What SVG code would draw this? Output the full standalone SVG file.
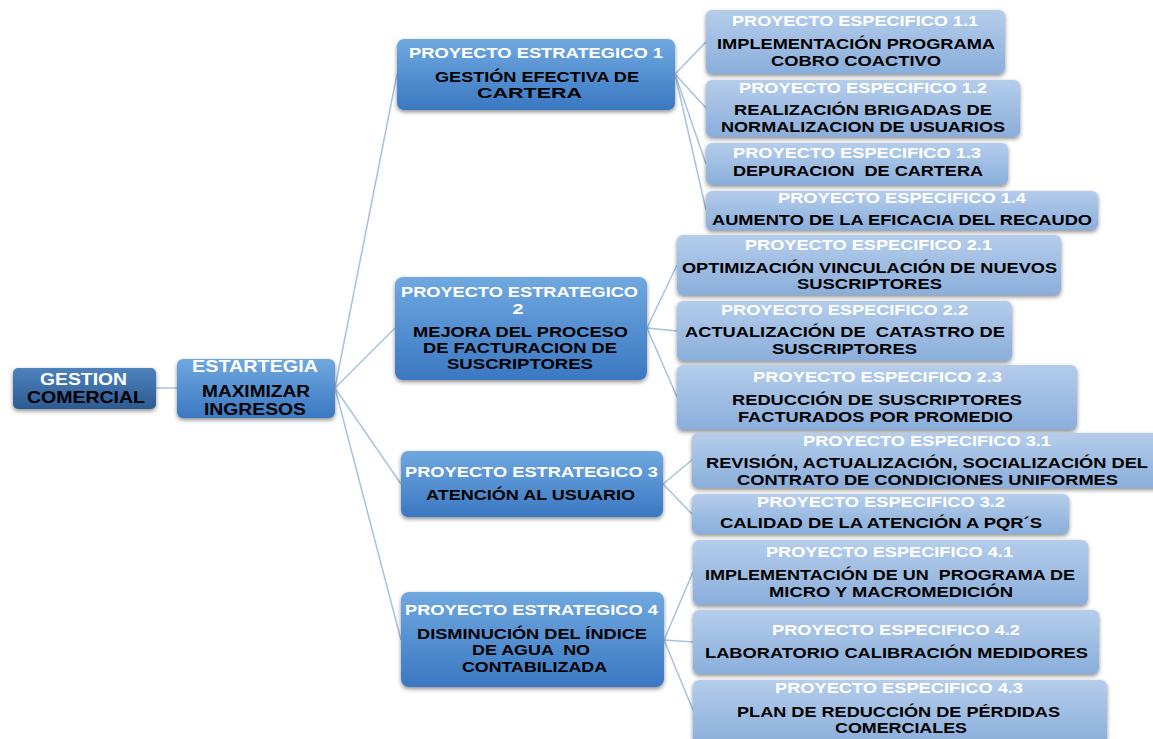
<svg xmlns="http://www.w3.org/2000/svg" width="1153" height="739" viewBox="0 0 1153 739">
<defs>
<linearGradient id="gRoot" x1="0" y1="0" x2="0" y2="1"><stop offset="0" stop-color="#4d82bc"/><stop offset="1" stop-color="#2c5a92"/></linearGradient>
<linearGradient id="gStrat" x1="0" y1="0" x2="0" y2="1"><stop offset="0" stop-color="#70a8e0"/><stop offset="1" stop-color="#3a78c2"/></linearGradient>
<linearGradient id="gSpec" x1="0" y1="0" x2="0" y2="1"><stop offset="0" stop-color="#b5cdeb"/><stop offset="1" stop-color="#8aaedb"/></linearGradient>
<filter id="sh" x="-10%" y="-20%" width="120%" height="150%"><feDropShadow dx="0" dy="2" stdDeviation="2" flood-color="#000" flood-opacity="0.45"/></filter>
</defs>
<style>
.t{font-family:"Liberation Sans",Arial,sans-serif;font-weight:bold}
.w{fill:#ffffff}
.k{fill:#000000}
.r{font-size:17px}
.m{font-size:16px}
.s{font-size:15px}
.p{font-size:15.5px}
.root{fill:url(#gRoot);filter:url(#sh)}
.strat{fill:url(#gStrat);filter:url(#sh)}
.spec{fill:url(#gSpec);filter:url(#sh)}
.c{stroke:#a7c1e2;stroke-width:1.5;fill:none}
</style>
<rect width="1153" height="739" fill="#ffffff"/>
<g id="connectors">
<line class="c" x1="156" y1="388" x2="177" y2="388"/>
<line class="c" x1="335" y1="388" x2="397" y2="74"/>
<line class="c" x1="335" y1="388" x2="395" y2="328"/>
<line class="c" x1="335" y1="388" x2="401" y2="484"/>
<line class="c" x1="335" y1="388" x2="401" y2="640"/>
<line class="c" x1="675" y1="74" x2="706" y2="42"/>
<line class="c" x1="675" y1="74" x2="706" y2="108"/>
<line class="c" x1="675" y1="74" x2="706" y2="164"/>
<line class="c" x1="675" y1="74" x2="706" y2="210"/>
<line class="c" x1="647" y1="328" x2="677" y2="265"/>
<line class="c" x1="647" y1="328" x2="677" y2="331"/>
<line class="c" x1="647" y1="328" x2="677" y2="397"/>
<line class="c" x1="663" y1="484" x2="692" y2="460"/>
<line class="c" x1="663" y1="484" x2="692" y2="514"/>
<line class="c" x1="664" y1="640" x2="693" y2="572"/>
<line class="c" x1="664" y1="640" x2="693" y2="642"/>
<line class="c" x1="664" y1="640" x2="693" y2="710"/>
</g>
<g id="root">
<rect class="root" x="13" y="368" width="143" height="41" rx="5"/>
<text class="t r w" x="40" y="385" textLength="87" lengthAdjust="spacingAndGlyphs">GESTION</text>
<text class="t r k" x="27" y="403" textLength="118" lengthAdjust="spacingAndGlyphs">COMERCIAL</text>
</g>
<g id="estrategia">
<rect class="strat" x="177" y="359" width="158" height="59" rx="6"/>
<text class="t r w" x="192" y="372" textLength="126" lengthAdjust="spacingAndGlyphs">ESTARTEGIA</text>
<text class="t m k" x="202" y="397" textLength="108" lengthAdjust="spacingAndGlyphs">MAXIMIZAR</text>
<text class="t m k" x="204" y="415" textLength="102" lengthAdjust="spacingAndGlyphs">INGRESOS</text>
</g>
<g id="pe1">
<rect class="strat" x="397" y="39" width="278" height="71" rx="7"/>
<text class="t s w" x="409" y="58" textLength="254" lengthAdjust="spacingAndGlyphs">PROYECTO ESTRATEGICO 1</text>
<text class="t s k" x="435" y="82" textLength="204" lengthAdjust="spacingAndGlyphs">GESTIÓN EFECTIVA DE</text>
<text class="t s k" x="477" y="98" textLength="105" lengthAdjust="spacingAndGlyphs">CARTERA</text>
</g>
<g id="pe2">
<rect class="strat" x="395" y="277" width="252" height="103" rx="8"/>
<text class="t s w" x="401" y="297" textLength="237" lengthAdjust="spacingAndGlyphs">PROYECTO ESTRATEGICO</text>
<text class="t s w" x="518" y="314" text-anchor="middle" textLength="11" lengthAdjust="spacingAndGlyphs">2</text>
<text class="t s k" x="413" y="337" textLength="215" lengthAdjust="spacingAndGlyphs">MEJORA DEL PROCESO</text>
<text class="t s k" x="423" y="353" textLength="194" lengthAdjust="spacingAndGlyphs">DE FACTURACION DE</text>
<text class="t s k" x="447" y="369" textLength="146" lengthAdjust="spacingAndGlyphs">SUSCRIPTORES</text>
</g>
<g id="pe3">
<rect class="strat" x="401" y="451" width="262" height="66" rx="7"/>
<text class="t s w" x="405" y="477" textLength="253" lengthAdjust="spacingAndGlyphs">PROYECTO ESTRATEGICO 3</text>
<text class="t s k" x="426" y="500" textLength="209" lengthAdjust="spacingAndGlyphs">ATENCIÓN AL USUARIO</text>
</g>
<g id="pe4">
<rect class="strat" x="401" y="592" width="263" height="95" rx="8"/>
<text class="t s w" x="405" y="615" textLength="253" lengthAdjust="spacingAndGlyphs">PROYECTO ESTRATEGICO 4</text>
<text class="t s k" x="417" y="639" textLength="230" lengthAdjust="spacingAndGlyphs">DISMINUCIÓN DEL ÍNDICE</text>
<text class="t s k" x="472" y="655" textLength="118" lengthAdjust="spacingAndGlyphs" xml:space="preserve">DE AGUA  NO</text>
<text class="t s k" x="462" y="672" textLength="145" lengthAdjust="spacingAndGlyphs">CONTABILIZADA</text>
</g>
<g id="ps11">
<rect class="spec" x="706" y="10" width="299" height="64" rx="6"/>
<text class="t p w" x="732" y="26" textLength="246" lengthAdjust="spacingAndGlyphs">PROYECTO ESPECIFICO 1.1</text>
<text class="t p k" x="717" y="49" textLength="278" lengthAdjust="spacingAndGlyphs">IMPLEMENTACIÓN PROGRAMA</text>
<text class="t p k" x="771" y="66" textLength="170" lengthAdjust="spacingAndGlyphs">COBRO COACTIVO</text>
</g>
<g id="ps12">
<rect class="spec" x="706" y="80" width="314" height="57" rx="6"/>
<text class="t p w" x="739" y="93" textLength="248" lengthAdjust="spacingAndGlyphs">PROYECTO ESPECIFICO 1.2</text>
<text class="t p k" x="734" y="115" textLength="258" lengthAdjust="spacingAndGlyphs">REALIZACIÓN BRIGADAS DE</text>
<text class="t p k" x="721" y="132" textLength="284" lengthAdjust="spacingAndGlyphs">NORMALIZACION DE USUARIOS</text>
</g>
<g id="ps13">
<rect class="spec" x="706" y="143" width="302" height="42" rx="6"/>
<text class="t p w" x="733" y="158" textLength="248" lengthAdjust="spacingAndGlyphs">PROYECTO ESPECIFICO 1.3</text>
<text class="t p k" x="733" y="176" textLength="250" lengthAdjust="spacingAndGlyphs" xml:space="preserve">DEPURACION  DE CARTERA</text>
</g>
<g id="ps14">
<rect class="spec" x="706" y="191" width="392" height="39" rx="6"/>
<text class="t p w" x="778" y="203" textLength="248" lengthAdjust="spacingAndGlyphs">PROYECTO ESPECIFICO 1.4</text>
<text class="t p k" x="712" y="225" textLength="380" lengthAdjust="spacingAndGlyphs">AUMENTO DE LA EFICACIA DEL RECAUDO</text>
</g>
<g id="ps21">
<rect class="spec" x="677" y="235" width="384" height="60" rx="6"/>
<text class="t p w" x="745" y="250" textLength="247" lengthAdjust="spacingAndGlyphs">PROYECTO ESPECIFICO 2.1</text>
<text class="t p k" x="682" y="273" textLength="375" lengthAdjust="spacingAndGlyphs">OPTIMIZACIÓN VINCULACIÓN DE NUEVOS</text>
<text class="t p k" x="797" y="289" textLength="145" lengthAdjust="spacingAndGlyphs">SUSCRIPTORES</text>
</g>
<g id="ps22">
<rect class="spec" x="677" y="301" width="335" height="60" rx="6"/>
<text class="t p w" x="721" y="315" textLength="247" lengthAdjust="spacingAndGlyphs">PROYECTO ESPECIFICO 2.2</text>
<text class="t p k" x="685" y="337" textLength="320" lengthAdjust="spacingAndGlyphs" xml:space="preserve">ACTUALIZACIÓN DE  CATASTRO DE</text>
<text class="t p k" x="772" y="354" textLength="145" lengthAdjust="spacingAndGlyphs">SUSCRIPTORES</text>
</g>
<g id="ps23">
<rect class="spec" x="677" y="365" width="400" height="65" rx="6"/>
<text class="t p w" x="753" y="382" textLength="249" lengthAdjust="spacingAndGlyphs">PROYECTO ESPECIFICO 2.3</text>
<text class="t p k" x="732" y="405" textLength="290" lengthAdjust="spacingAndGlyphs">REDUCCIÓN DE SUSCRIPTORES</text>
<text class="t p k" x="738" y="422" textLength="275" lengthAdjust="spacingAndGlyphs">FACTURADOS POR PROMEDIO</text>
</g>
<g id="ps31">
<rect class="spec" x="692" y="433" width="472" height="55" rx="6"/>
<text class="t p w" x="803" y="446" textLength="248" lengthAdjust="spacingAndGlyphs">PROYECTO ESPECIFICO 3.1</text>
<text class="t p k" x="706" y="468" textLength="442" lengthAdjust="spacingAndGlyphs">REVISIÓN, ACTUALIZACIÓN, SOCIALIZACIÓN DEL</text>
<text class="t p k" x="737" y="485" textLength="381" lengthAdjust="spacingAndGlyphs">CONTRATO DE CONDICIONES UNIFORMES</text>
</g>
<g id="ps32">
<rect class="spec" x="692" y="494" width="377" height="40" rx="6"/>
<text class="t p w" x="757" y="507" textLength="248" lengthAdjust="spacingAndGlyphs">PROYECTO ESPECIFICO 3.2</text>
<text class="t p k" x="720" y="528" textLength="322" lengthAdjust="spacingAndGlyphs">CALIDAD DE LA ATENCIÓN A PQR´S</text>
</g>
<g id="ps41">
<rect class="spec" x="693" y="540" width="395" height="65" rx="6"/>
<text class="t p w" x="766" y="557" textLength="247" lengthAdjust="spacingAndGlyphs">PROYECTO ESPECIFICO 4.1</text>
<text class="t p k" x="705" y="580" textLength="370" lengthAdjust="spacingAndGlyphs" xml:space="preserve">IMPLEMENTACIÓN DE UN  PROGRAMA DE</text>
<text class="t p k" x="769" y="597" textLength="244" lengthAdjust="spacingAndGlyphs">MICRO Y MACROMEDICIÓN</text>
</g>
<g id="ps42">
<rect class="spec" x="693" y="610" width="406" height="64" rx="6"/>
<text class="t p w" x="772" y="635" textLength="248" lengthAdjust="spacingAndGlyphs">PROYECTO ESPECIFICO 4.2</text>
<text class="t p k" x="705" y="658" textLength="383" lengthAdjust="spacingAndGlyphs">LABORATORIO CALIBRACIÓN MEDIDORES</text>
</g>
<g id="ps43">
<rect class="spec" x="693" y="680" width="414" height="66" rx="6"/>
<text class="t p w" x="775" y="693" textLength="248" lengthAdjust="spacingAndGlyphs">PROYECTO ESPECIFICO 4.3</text>
<text class="t p k" x="737" y="717" textLength="323" lengthAdjust="spacingAndGlyphs">PLAN DE REDUCCIÓN DE PÉRDIDAS</text>
<text class="t p k" x="835" y="733" textLength="132" lengthAdjust="spacingAndGlyphs">COMERCIALES</text>
</g>
</svg>
